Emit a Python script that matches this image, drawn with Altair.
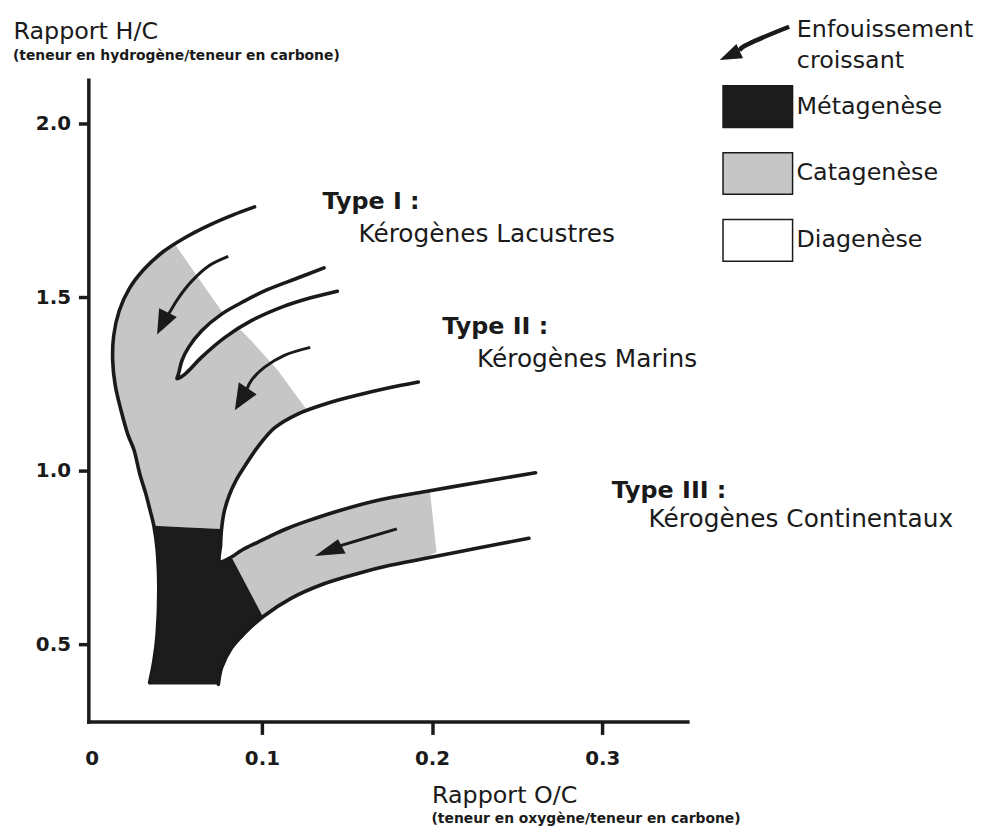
import altair as alt
import pandas as pd

INK = "#1a1a1a"
FONT = "DejaVu Sans"

# ---------------- axis ticks ----------------
X_TICKS = [0, 0.1, 0.2, 0.3]
Y_TICKS = [0.5, 1.0, 1.5, 2.0]

# ---------------- stages (legend) ----------------
STAGES = ["Métagenèse", "Catagenèse", "Diagenèse"]
STAGE_COLORS = ["#1c1c1c", "#c6c6c6", "#ffffff"]

# ---------------- outlines (O/C, H/C) ----------------
outer_x = [0.0957, 0.0831, 0.0685, 0.0540, 0.0423, 0.0307, 0.0219, 0.0161, 0.0129, 0.0123, 0.0138, 0.0172,
           0.0213, 0.0248, 0.0283, 0.0316, 0.0341, 0.0365, 0.0384, 0.0394, 0.0384, 0.0365, 0.0340]
outer_y = [1.761, 1.738, 1.707, 1.670, 1.633, 1.581, 1.524, 1.461, 1.390, 1.318, 1.247, 1.175,
           1.104, 1.061, 0.990, 0.937, 0.890, 0.842, 0.775, 0.661, 0.528, 0.452, 0.390]

t3low_x = [0.0744, 0.0763, 0.0821, 0.0899, 0.1006, 0.1171, 0.1365, 0.1559, 0.1753, 0.1948, 0.2240, 0.2569]
t3low_y = [0.385, 0.433, 0.490, 0.533, 0.580, 0.633, 0.675, 0.704, 0.728, 0.747, 0.775, 0.806]

t23_x = [0.2608, 0.2259, 0.1987, 0.1676, 0.1443, 0.1268, 0.1152, 0.1074, 0.0977, 0.0879, 0.0821, 0.0753,
         0.0757, 0.0763, 0.0779, 0.0808, 0.0848, 0.0901, 0.0977, 0.1074, 0.1210, 0.1385, 0.1559, 0.1734,
         0.1919]
t23_y = [0.995, 0.966, 0.943, 0.915, 0.884, 0.856, 0.835, 0.818, 0.795, 0.771, 0.752, 0.739,
         0.785, 0.833, 0.884, 0.930, 0.973, 1.015, 1.070, 1.124, 1.164, 1.195, 1.218, 1.238,
         1.256]

wedge_x = [0.1365, 0.1210, 0.1035, 0.0899, 0.0763, 0.0646, 0.0569, 0.0530, 0.0510, 0.0501, 0.0550, 0.0646,
           0.0783, 0.0938, 0.1132, 0.1287, 0.1443]
wedge_y = [1.585, 1.556, 1.523, 1.490, 1.452, 1.404, 1.356, 1.318, 1.280, 1.266, 1.280, 1.328,
           1.385, 1.433, 1.475, 1.499, 1.518]

# ---------------- filled zones ----------------
cat12_x = [0.0491, 0.0423, 0.0307, 0.0219, 0.0161, 0.0129, 0.0123, 0.0138, 0.0172, 0.0213, 0.0248, 0.0283,
           0.0316, 0.0341, 0.0365, 0.0569, 0.0763, 0.0779, 0.0808, 0.0848, 0.0901, 0.0977, 0.1074, 0.1210,
           0.1258, 0.1093, 0.0938, 0.0763, 0.0627]
cat12_y = [1.652, 1.633, 1.581, 1.524, 1.461, 1.390, 1.318, 1.247, 1.175, 1.104, 1.061, 0.990,
           0.937, 0.890, 0.842, 0.837, 0.833, 0.884, 0.930, 0.973, 1.015, 1.070, 1.124, 1.164,
           1.180, 1.290, 1.375, 1.461, 1.556]

meta_x = [0.0365, 0.0384, 0.0394, 0.0384, 0.0365, 0.0344, 0.0340, 0.0744, 0.0763, 0.0821, 0.0899, 0.1006,
          0.0821, 0.0753, 0.0757, 0.0763, 0.0569]
meta_y = [0.842, 0.775, 0.661, 0.528, 0.452, 0.404, 0.385, 0.385, 0.433, 0.490, 0.533, 0.580,
          0.752, 0.739, 0.785, 0.833, 0.837]

cat3_x = [0.0821, 0.0879, 0.0977, 0.1074, 0.1152, 0.1268, 0.1443, 0.1676, 0.1987, 0.2026, 0.1948, 0.1753,
          0.1559, 0.1365, 0.1171, 0.1006]
cat3_y = [0.752, 0.771, 0.795, 0.818, 0.835, 0.856, 0.884, 0.915, 0.943, 0.766, 0.747, 0.728,
          0.704, 0.675, 0.633, 0.580]

# ---------------- arrows ----------------
arrow1_x = [0.0802, 0.0685, 0.0588, 0.0510, 0.0462, 0.0429]
arrow1_y = [1.618, 1.590, 1.547, 1.499, 1.461, 1.433]
arrow2_x = [0.1284, 0.1132, 0.1016, 0.0938, 0.0909]
arrow2_y = [1.356, 1.333, 1.299, 1.261, 1.233]
arrow3_x = [0.1793, 0.1462, 0.1414]
arrow3_y = [0.833, 0.785, 0.778]
arrowL_x = [0.4098, 0.3816, 0.3807]
arrowL_y = [2.280, 2.218, 2.210]

head1_x = [0.0396, 0.0384, 0.0500]
head1_y = [1.4686, 1.393, 1.4434]
head2_x = [0.0864, 0.0841, 0.0969]
head2_y = [1.2554, 1.175, 1.2206]
head3_x = [0.1447, 0.1311, 0.1492]
head3_y = [0.803, 0.755, 0.7622]
headL_x = [0.3788, 0.3690, 0.3827]
headL_y = [2.2306, 2.184, 2.189]

# ---------------- annotations ----------------
TYPE_LABELS = ["Type I :", "Type II :", "Type III :"]
TYPE_X = [0.1356, 0.2060, 0.3055]
TYPE_Y = [1.7546, 1.3946, 0.9231]
KER_LABELS = ["Kérogènes Lacustres", "Kérogènes Marins", "Kérogènes Continentaux"]
KER_X = [0.1567, 0.2264, 0.3272]
KER_Y = [1.661, 1.2991, 0.8374]
ARROW_LABELS = ["Enfouissement", "croissant"]
ARROW_LABEL_X = [0.4143, 0.4143]
ARROW_LABEL_Y = [2.2517, 2.1611]

Y_TITLE = "Rapport H/C"
Y_SUB = "(teneur en hydrogène/teneur en carbone)"
X_TITLE = "Rapport O/C"
X_SUB = "(teneur en oxygène/teneur en carbone)"


def path_df(parts):
    frames = []
    for name, stage, xs, ys in parts:
        frames.append(pd.DataFrame({"x": xs, "y": ys, "ord": list(range(len(xs))),
                                    "part": name, "stage": stage}))
    return pd.concat(frames, ignore_index=True)


xscale = alt.Scale(domain=[-0.002, 0.35], nice=False, zero=False)
yscale = alt.Scale(domain=[0.278, 2.127], nice=False, zero=False)

xaxis = alt.Axis(values=X_TICKS, format=".1~f", grid=False,
                 domainColor=INK, domainWidth=3.5, domainCap="square",
                 tickColor=INK, tickWidth=3.5, tickSize=13,
                 tickOpacity={"condition": {"test": "datum.value === 0", "value": 0}, "value": 1},
                 labelFont=FONT, labelFontSize=20, labelFontWeight="bold", labelColor=INK,
                 labelPadding=14, labelFlush=False, labelOverlap=False,
                 title=X_TITLE, titleFont=FONT, titleFontSize=24, titleFontWeight="normal",
                 titleColor=INK, titleAngle=0, titleAlign="left", titleBaseline="alphabetic",
                 titleX=346, titleY=82)
yaxis = alt.Axis(values=Y_TICKS, format=".1f", grid=False,
                 domainColor=INK, domainWidth=3.5, domainCap="square",
                 tickColor=INK, tickWidth=3.5, tickSize=10,
                 labelFont=FONT, labelFontSize=20, labelFontWeight="bold", labelColor=INK,
                 labelPadding=8, labelOverlap=False,
                 title=Y_TITLE, titleFont=FONT, titleFontSize=24, titleFontWeight="normal",
                 titleColor=INK, titleAngle=0, titleAlign="left", titleBaseline="alphabetic",
                 titleX=-76, titleY=-42)

X = alt.X("x:Q", scale=xscale, axis=xaxis)
Y = alt.Y("y:Q", scale=yscale, axis=yaxis)

fill_scale = alt.Scale(domain=STAGES, range=STAGE_COLORS)
legend = alt.Legend(orient="none", legendX=653, legendY=5, title=None, padding=0,
                    symbolType="M-1.67,-1H1.67V1H-1.67Z", symbolSize=1764,
                    symbolStrokeColor=INK, symbolStrokeWidth=1.5, symbolOpacity=1,
                    labelFont=FONT, labelFontSize=24, labelColor=INK, labelOffset=17,
                    rowPadding=19.4, labelLimit=300)
FILL = alt.Fill("stage:N", scale=fill_scale, legend=legend)

zones_cat = alt.Chart(path_df([("cat12", "Catagenèse", cat12_x, cat12_y),
                               ("cat3", "Catagenèse", cat3_x, cat3_y)])).mark_line(
    filled=True, strokeWidth=0).encode(x=X, y=Y, order="ord:Q", detail="part:N", fill=FILL)
zones_meta = alt.Chart(path_df([("meta", "Métagenèse", meta_x, meta_y)])).mark_line(
    filled=True, strokeWidth=0).encode(x=X, y=Y, order="ord:Q", detail="part:N", fill=FILL)
zones_dia = alt.Chart(path_df([("wedge", "Diagenèse", wedge_x, wedge_y)])).mark_line(
    filled=True, strokeWidth=0).encode(x=X, y=Y, order="ord:Q", detail="part:N", fill=FILL)

outlines = alt.Chart(path_df([("outer", "", outer_x, outer_y),
                              ("t3low", "", t3low_x, t3low_y),
                              ("t23", "", t23_x, t23_y),
                              ("wedge", "", wedge_x, wedge_y)])).mark_line(
    color=INK, strokeWidth=3.6, interpolate="catmull-rom", strokeJoin="round", strokeCap="round").encode(
    x=X, y=Y, order="ord:Q", detail="part:N")

shafts = alt.Chart(path_df([("a1", "", arrow1_x, arrow1_y),
                            ("a2", "", arrow2_x, arrow2_y),
                            ("a3", "", arrow3_x, arrow3_y)])).mark_line(
    color=INK, strokeWidth=3, interpolate="catmull-rom").encode(
    x=X, y=Y, order="ord:Q", detail="part:N")
shaftL = alt.Chart(path_df([("aL", "", arrowL_x, arrowL_y)])).mark_line(
    color=INK, strokeWidth=4.5, interpolate="catmull-rom").encode(
    x=X, y=Y, order="ord:Q", detail="part:N")

heads = alt.Chart(path_df([("h1", "", head1_x, head1_y),
                           ("h2", "", head2_x, head2_y),
                           ("h3", "", head3_x, head3_y),
                           ("hL", "", headL_x, headL_y)])).mark_line(
    filled=True, color=INK, strokeWidth=0).encode(
    x=X, y=Y, order="ord:Q", detail="part:N")

type_txt = alt.Chart(pd.DataFrame({"label": TYPE_LABELS, "x": TYPE_X, "y": TYPE_Y})).mark_text(
    align="left", baseline="alphabetic", font=FONT, fontSize=24, fontWeight="bold", color=INK).encode(
    x=X, y=Y, text="label:N")
ker_txt = alt.Chart(pd.DataFrame({"label": KER_LABELS, "x": KER_X, "y": KER_Y})).mark_text(
    align="left", baseline="alphabetic", font=FONT, fontSize=25, color=INK).encode(
    x=X, y=Y, text="label:N")
arrow_txt = alt.Chart(pd.DataFrame({"label": ARROW_LABELS, "x": ARROW_LABEL_X, "y": ARROW_LABEL_Y})).mark_text(
    align="left", baseline="alphabetic", font=FONT, fontSize=24, color=INK).encode(
    x=X, y=Y, text="label:N")

ysub = alt.Chart(pd.DataFrame({"label": [Y_SUB]})).mark_text(
    align="left", baseline="alphabetic", font=FONT, fontSize=14, fontWeight="bold", color=INK).encode(
    x=alt.value(-76), y=alt.value(-20), text="label:N")
xsub = alt.Chart(pd.DataFrame({"label": [X_SUB]})).mark_text(
    align="left", baseline="alphabetic", font=FONT, fontSize=14, fontWeight="bold", color=INK).encode(
    x=alt.value(346), y=alt.value(749), text="label:N")

chart = alt.layer(zones_cat, zones_meta, zones_dia, outlines, shafts, shaftL, heads,
                  type_txt, ker_txt, arrow_txt, ysub, xsub).properties(
    width=604, height=647,
    padding={"left": 81, "top": 69, "right": 290, "bottom": 114},
    autosize=alt.AutoSizeParams(type="none"),
    background="white",
).configure_view(strokeWidth=0)

chart.save("out.html", embed_options={"renderer": "svg", "actions": False})
